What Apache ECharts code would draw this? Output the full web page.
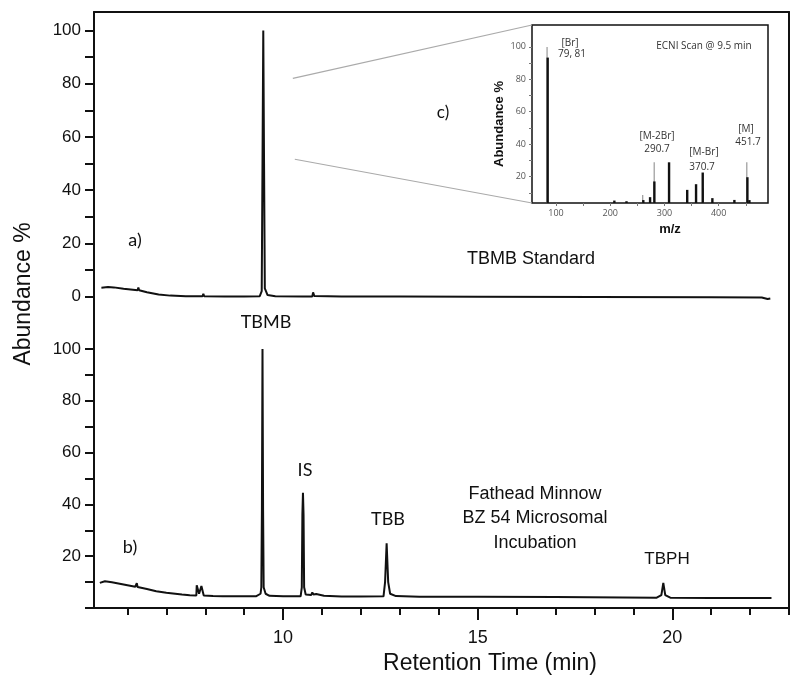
<!DOCTYPE html>
<html><head><meta charset="utf-8">
<script src="https://cdn.jsdelivr.net/npm/echarts@6/dist/echarts.min.js"></script>
<style>html,body{margin:0;padding:0;background:#fff}#c{width:800px;height:688px}</style>
</head><body><div id="c"></div>
<script>
// ---- Chromatogram a) TBMB standard ----
const timeA  = [5.33,5.5,5.65,5.9,6.2,6.26,6.28,6.30,6.5,6.8,7.1,7.5,7.93,7.95,7.97,8.5,9.0,9.40,9.45,9.47,9.49,9.51,9.53,9.6,9.8,10.5,10.75,10.77,10.8,11.5,13,15,18,21,22.3,22.45,22.52];
const abundA = [3.3,3.5,3.4,2.9,2.4,2.3,3.3,2.3,1.6,0.7,0.3,0.1,0.1,1.0,0.1,0.0,0.0,0.1,2,50,100,50,3,0.5,0.1,0,0,1.5,0.2,0,0,-0.1,-0.2,-0.3,-0.4,-1.0,-0.8];
// ---- Chromatogram b) Fathead minnow incubation ----
const timeB  = [5.29,5.42,5.6,5.8,6.0,6.2,6.22,6.24,6.26,6.5,6.74,7.0,7.17,7.4,7.6,7.77,7.78,7.82,7.84,7.88,7.9,7.94,7.96,8.2,8.45,8.9,9.3,9.42,9.44,9.455,9.47,9.485,9.50,9.55,9.65,10.0,10.45,10.48,10.495,10.51,10.525,10.54,10.58,10.72,10.75,10.78,10.85,10.9,11.05,11.07,11.09,11.5,12.0,12.58,12.62,12.66,12.70,12.75,12.9,13.5,15,17,19.6,19.72,19.77,19.82,19.95,21,22.55];
const abundB = [9.7,10.3,9.9,9.4,8.8,8.2,8.2,9.6,8.1,7.3,6.5,5.9,5.6,5.2,4.9,4.8,8.8,8.6,5.5,5.0,8.5,8.4,4.8,4.6,4.5,4.5,4.5,5.5,8,38,100,38,8,5.5,4.7,4.5,4.5,8,36,44.5,36,8,5.2,5.0,6.0,5.2,5.4,4.8,4.7,5.3,4.6,4.4,4.4,4.5,10,25,10,5.5,4.6,4.3,4.3,4.2,4.0,5,9.7,5,4.0,3.9,3.9];
// ---- Inset c) ECNI mass spectrum ----
const mzGrey = [84.6,261,282.2,373,453];
const abGrey = [100,8.7,28.8,12.8,28.8];
const mzDark = [84.6,207.6,230,261,273.5,281.4,308.5,342,358.3,370.6,388.4,429,453,456.7];
const abDark = [93.4,5.2,4.8,5.5,7.3,17,28.8,11.8,15.3,22.5,6.7,5.6,19.6,5.5];
// ---- Tick values ----
const yTicks = [0,10,20,30,40,50,60,70,80,90,100];
const yLabelsUpper = [0,20,40,60,80,100];
const yLabelsLower = [20,40,60,80,100];
const xMinor = [6,7,8,9,11,12,13,14,16,17,18,19,21,22,23];
const xMajor = [10,15,20];
const mzTicks = [100,150,200,250,300,350,400,450];
const mzLabels = [100,200,300,400];
const insetYTicks = [10,20,30,40,50,60,70,80,90,100];
const insetYLabels = [20,40,60,80,100];

const zip = (a,b)=>a.map((v,i)=>[v,b[i]]);
const K = '#111';
const AX = {color:K, width:2};
const sans = 'Liberation Sans';

function txt(id, text, x, y, size, family, extra){
  return Object.assign({
    type:'text', id:id, x:x, y:y, silent:true,
    style:Object.assign({text:text, fill:'#111', font:size+'px "'+family+'"', textAlign:'center', textVerticalAlign:'middle', verticalAlign:'middle'}, (extra&&extra.style)||{})
  }, extra&&extra.rotation!==undefined?{rotation:extra.rotation}:{});
}

const chart = echarts.init(document.getElementById('c'));
const option = {
  animation:false,
  backgroundColor:'#fff',
  grid:[
    {left:94, right:11, top:12, height:311, outerBoundsMode:'none', containLabel:false},
    {left:94, right:11, top:323, height:285, outerBoundsMode:'none', containLabel:false},
    {left:532, right:32, top:25, height:178, show:true, borderColor:'#111', borderWidth:1.5, backgroundColor:'transparent', outerBoundsMode:'none', containLabel:false}
  ],
  xAxis:[
    {type:'value', gridIndex:0, min:5.14, max:23, position:'top',
     axisLine:{show:true, onZero:false, lineStyle:AX}, axisTick:{show:false}, axisLabel:{show:false}, splitLine:{show:false}},
    {type:'value', gridIndex:1, min:5.14, max:23, position:'bottom',
     axisLine:{show:true, onZero:false, lineStyle:AX},
     axisTick:{show:true, length:7, lineStyle:AX, customValues:xMinor},
     axisLabel:{show:false}, splitLine:{show:false}},
    {type:'value', gridIndex:1, min:5.14, max:23, position:'bottom',
     axisLine:{show:false, onZero:false},
     axisTick:{show:true, length:12, lineStyle:AX, customValues:xMajor},
     axisLabel:{show:true, customValues:xMajor, margin:21, color:'#111', fontSize:18, fontFamily:sans},
     splitLine:{show:false}},
    {type:'value', gridIndex:2, min:55.7, max:491, position:'bottom',
     axisLine:{show:false, onZero:false},
     axisTick:{show:true, length:3, lineStyle:{color:'#777', width:1}, customValues:mzTicks},
     axisLabel:{show:true, customValues:mzLabels, margin:6, color:'#555', fontSize:9, fontFamily:'Open Sans'},
     splitLine:{show:false}}
  ],
  yAxis:[
    {type:'value', gridIndex:0, min:-10, max:107, position:'left',
     axisLine:{show:true, onZero:false, lineStyle:AX},
     axisTick:{show:true, length:9, lineStyle:AX, customValues:yTicks},
     axisLabel:{show:true, customValues:yLabelsUpper, margin:13, color:'#111', fontSize:17, fontFamily:sans},
     splitLine:{show:false}},
    {type:'value', gridIndex:0, min:-10, max:107, position:'right',
     axisLine:{show:true, onZero:false, lineStyle:AX}, axisTick:{show:false}, axisLabel:{show:false}, splitLine:{show:false}},
    {type:'value', gridIndex:1, min:0, max:110, position:'left',
     axisLine:{show:true, onZero:false, lineStyle:AX},
     axisTick:{show:true, length:9, lineStyle:AX, customValues:yTicks},
     axisLabel:{show:true, customValues:yLabelsLower, margin:13, color:'#111', fontSize:17, fontFamily:sans},
     splitLine:{show:false}},
    {type:'value', gridIndex:1, min:0, max:110, position:'right',
     axisLine:{show:true, onZero:false, lineStyle:AX}, axisTick:{show:false}, axisLabel:{show:false}, splitLine:{show:false}},
    {type:'value', gridIndex:2, min:3.7, max:113.5, position:'left',
     axisLine:{show:false, onZero:false},
     axisTick:{show:true, length:3, lineStyle:{color:'#777', width:1}, customValues:insetYTicks},
     axisLabel:{show:true, customValues:insetYLabels, margin:6, color:'#555', fontSize:9, fontFamily:'Open Sans'},
     splitLine:{show:false}}
  ],
  series:[
    {type:'line', xAxisIndex:0, yAxisIndex:0, data:zip(timeA, abundA), showSymbol:false, symbol:'none',
     lineStyle:{color:K, width:2}, z:3},
    {type:'line', xAxisIndex:1, yAxisIndex:2, data:zip(timeB, abundB), showSymbol:false, symbol:'none',
     lineStyle:{color:K, width:2}, z:3},
    {type:'bar', xAxisIndex:3, yAxisIndex:4, data:zip(mzGrey, abGrey), barWidth:1.2, barGap:'-100%',
     itemStyle:{color:'#999'}, clip:true, z:2},
    {type:'bar', xAxisIndex:3, yAxisIndex:4, data:zip(mzDark, abDark), barWidth:2.4, barGap:'-100%',
     itemStyle:{color:'#111'}, clip:true, z:3}
  ],
  graphic:[
    txt('ya', 'Abundance %', 24, 294, 23, sans, {rotation:Math.PI/2}),
    txt('xa', 'Retention Time (min)', 490, 664, 23, sans),
    txt('a', 'a)', 135, 240, 18, 'Lato'),
    txt('b', 'b)', 130, 547, 18, 'Lato'),
    txt('c', 'c)', 443, 113, 17, 'Lato'),
    txt('std', 'TBMB Standard', 531, 259, 18, sans),
    txt('tbmb', 'TBMB', 266, 322, 18, 'Lato'),
    txt('is', 'IS', 305, 470, 18, 'Lato'),
    txt('tbb', 'TBB', 388, 519, 18, 'Lato'),
    txt('f1', 'Fathead Minnow', 535, 494, 18, sans),
    txt('f2', 'BZ 54 Microsomal', 535, 518, 18, sans),
    txt('f3', 'Incubation', 535, 543, 18, sans),
    txt('tbph', 'TBPH', 667, 559, 17, sans),
    txt('iy', 'Abundance %', 499, 124, 13, sans, {rotation:Math.PI/2, style:{font:'bold 13px "Liberation Sans"'}}),
    txt('ix', 'm/z', 670, 229, 13, sans, {style:{font:'bold 13px "Liberation Sans"'}}),
    txt('br1', '[Br]', 570, 43, 10, 'Open Sans', {style:{fill:'#333'}}),
    txt('br2', '79, 81', 572, 54, 10, 'Open Sans', {style:{fill:'#333'}}),
    txt('ecni', 'ECNI Scan @ 9.5 min', 704, 46, 10, 'Open Sans', {style:{fill:'#333'}}),
    txt('m2a', '[M-2Br]', 657, 136, 10, 'Open Sans', {style:{fill:'#333'}}),
    txt('m2b', '290.7', 657, 149, 10, 'Open Sans', {style:{fill:'#333'}}),
    txt('m1a', '[M-Br]', 704, 152, 10, 'Open Sans', {style:{fill:'#333'}}),
    txt('m1b', '370.7', 702, 167, 10, 'Open Sans', {style:{fill:'#333'}}),
    txt('m0a', '[M]', 746, 129, 10, 'Open Sans', {style:{fill:'#333'}}),
    txt('m0b', '451.7', 748, 142, 10, 'Open Sans', {style:{fill:'#333'}})
  ]
};
chart.setOption(option);

// zoom connector lines: from chromatogram point to inset corners
const pA = chart.convertToPixel({xAxisIndex:0, yAxisIndex:0}, [10.25, 82]);
const pB = chart.convertToPixel({xAxisIndex:0, yAxisIndex:0}, [10.30, 51.6]);
const cT = chart.convertToPixel({xAxisIndex:3, yAxisIndex:4}, [55.7, 113.5]);
const cB = chart.convertToPixel({xAxisIndex:3, yAxisIndex:4}, [55.7, 3.7]);
chart.setOption({graphic:[
  {type:'line', id:'zl1', silent:true, shape:{x1:pA[0], y1:pA[1], x2:cT[0], y2:cT[1]}, style:{stroke:'#aaa', lineWidth:1.2}},
  {type:'line', id:'zl2', silent:true, shape:{x1:pB[0], y1:pB[1], x2:cB[0], y2:cB[1]}, style:{stroke:'#aaa', lineWidth:1.2}}
]});
</script></body></html>
